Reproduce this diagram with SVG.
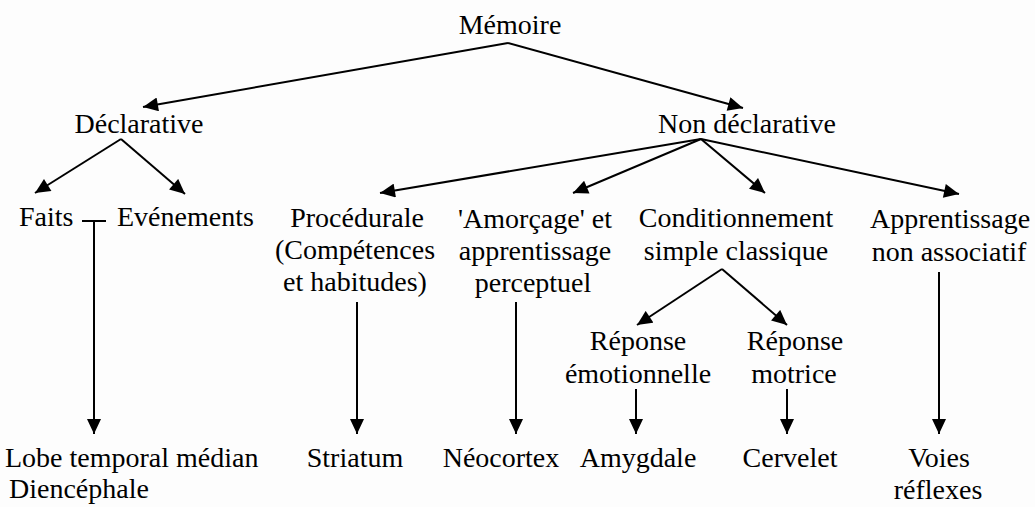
<svg xmlns="http://www.w3.org/2000/svg" width="1035" height="507" viewBox="0 0 1035 507">
<style>
.c{stroke:#000;stroke-width:2;fill:none}
.a{marker-end:url(#ah)}
.t{font-family:'Liberation Serif','Times New Roman',serif;font-size:28px;fill:#000;text-anchor:middle}
.l{text-anchor:start}
</style>
<defs>
<marker id="ah" markerUnits="userSpaceOnUse" markerWidth="16" markerHeight="14" refX="15" refY="7" orient="auto" viewBox="0 0 15 14">
<path d="M0,0 L15,7 L0,14 z" fill="#000"/>
</marker>
</defs>
<rect width="1035" height="507" fill="#fdfdfd"/>
<g id="connectors">
<path class="c a" d="M508,43 L143,107"/>
<path class="c a" d="M508,43 L743,108"/>
<path class="c a" d="M121,139 L35,193"/>
<path class="c a" d="M121,139 L185,194"/>
<path class="c a" d="M701,139 L380,193"/>
<path class="c a" d="M701,139 L573,193"/>
<path class="c a" d="M701,139 L765,193"/>
<path class="c a" d="M701,139 L959,194"/>
<path class="c" d="M82,221 L106,221"/>
<path class="c a" d="M94,221 L94,434"/>
<path class="c a" d="M357,302 L357,434"/>
<path class="c a" d="M516,302 L516,434"/>
<path class="c a" d="M722,269 L637,325"/>
<path class="c a" d="M722,269 L787,325"/>
<path class="c a" d="M636,389 L636,434"/>
<path class="c a" d="M787,389 L787,434"/>
<path class="c a" d="M939,272 L939,434"/>
</g>
<g class="t">
<g id="memoire"><text x="510" y="34">Mémoire</text></g>
<g id="declarative"><text x="139" y="133">Déclarative</text></g>
<g id="non-declarative"><text x="747" y="133">Non déclarative</text></g>
<g id="faits"><text class="l" x="19" y="226">Faits</text></g>
<g id="evenements"><text class="l" x="117" y="226">Evénements</text></g>
<g id="procedurale"><text x="357" y="227">Procédurale</text><text x="355" y="259">(Compétences</text><text x="355" y="291">et habitudes)</text></g>
<g id="amorcage"><text x="535" y="228">'Amorçage' et</text><text x="535" y="260">apprentissage</text><text x="533" y="292">perceptuel</text></g>
<g id="conditionnement"><text x="736" y="227">Conditionnement</text><text x="736" y="260">simple classique</text></g>
<g id="apprentissage"><text x="950" y="228">Apprentissage</text><text x="949" y="261">non associatif</text></g>
<g id="reponse-emo"><text x="638" y="350">Réponse</text><text x="638" y="383">émotionnelle</text></g>
<g id="reponse-mot"><text x="795" y="350">Réponse</text><text x="794" y="383">motrice</text></g>
<g id="lobe"><text class="l" x="5" y="467">Lobe temporal médian</text><text class="l" x="9" y="498">Diencéphale</text></g>
<g id="striatum"><text x="355" y="467">Striatum</text></g>
<g id="neocortex"><text x="501" y="467">Néocortex</text></g>
<g id="amygdale"><text x="638" y="467">Amygdale</text></g>
<g id="cervelet"><text x="790" y="467">Cervelet</text></g>
<g id="voies"><text x="939" y="467">Voies</text><text x="938" y="499">réflexes</text></g>
</g>
</svg>
